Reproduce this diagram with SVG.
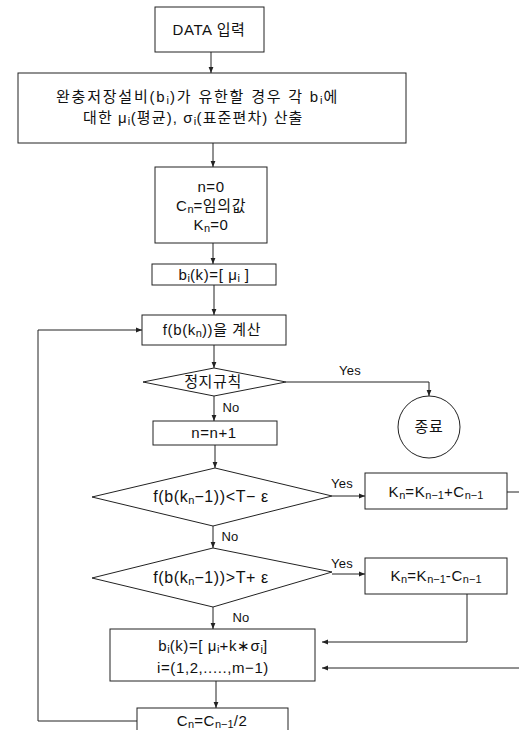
<svg xmlns="http://www.w3.org/2000/svg" width="519" height="730" viewBox="0 0 519 730">
<defs>
<marker id="ah" viewBox="0 0 10 10" refX="10" refY="5" markerWidth="6" markerHeight="6" orient="auto" markerUnits="userSpaceOnUse">
<path d="M0,1 L10,5 L0,9 Z" fill="#222"/>
</marker>
<style>
.b{fill:#fff;stroke:#222;stroke-width:1}
.c{fill:none;stroke:#222;stroke-width:1}
text{font-family:"Liberation Sans","Noto Sans CJK KR",sans-serif;font-size:15px;letter-spacing:0.6px;fill:#111;text-anchor:middle}
.s{font-size:11px;baseline-shift:-2px;letter-spacing:0}
.lb{font-size:13px;letter-spacing:0.3px}
</style>
</defs>
<rect width="519" height="730" fill="#fff"/>
<g id="connectors">
<path class="c" d="M211,52 V73" marker-end="url(#ah)"/>
<path class="c" d="M213,143 V167" marker-end="url(#ah)"/>
<path class="c" d="M213,243 V264" marker-end="url(#ah)"/>
<path class="c" d="M214,285 V315" marker-end="url(#ah)"/>
<path class="c" d="M214,345 V368" marker-end="url(#ah)"/>
<path class="c" d="M286,382 H429 V396" marker-end="url(#ah)"/>
<path class="c" d="M214,396 V421" marker-end="url(#ah)"/>
<path class="c" d="M215,445 V468" marker-end="url(#ah)"/>
<path class="c" d="M332,496 H365" marker-end="url(#ah)"/>
<path class="c" d="M213,526 V548" marker-end="url(#ah)"/>
<path class="c" d="M332,574 H365" marker-end="url(#ah)"/>
<path class="c" d="M213,607 V629" marker-end="url(#ah)"/>
<path class="c" d="M467,594 V642 H322" marker-end="url(#ah)"/>
<path class="c" d="M507,492 H530 V668 H322" marker-end="url(#ah)"/>
<path class="c" d="M216,681 V708" marker-end="url(#ah)"/>
<path class="c" d="M137,721 H38 V330 H142" marker-end="url(#ah)"/>
<text class="lb" x="350" y="375">Yes</text>
<text class="lb" x="231" y="412">No</text>
<text class="lb" x="342" y="488">Yes</text>
<text class="lb" x="230" y="541">No</text>
<text class="lb" x="342" y="568">Yes</text>
<text class="lb" x="241" y="622">No</text>
</g>
<g id="n1"><rect class="b" x="155" y="7" width="109" height="45"/><text x="209" y="35">DATA 입력</text></g>
<g id="n2"><rect class="b" x="18" y="73" width="388" height="70"/>
<text x="197" y="102" textLength="282" lengthAdjust="spacing">완충저장설비(b<tspan class="s">i</tspan>)가 유한할 경우 각 b<tspan class="s">i</tspan>에</text>
<text x="193" y="123" textLength="220" lengthAdjust="spacing">대한 μ<tspan class="s">i</tspan>(평균), σ<tspan class="s">i</tspan>(표준편차) 산출</text></g>
<g id="n3"><rect class="b" x="155" y="167" width="112" height="76"/>
<text x="211" y="192">n=0</text>
<text x="211" y="211">C<tspan class="s">n</tspan>=임의값</text>
<text x="211" y="230">K<tspan class="s">n</tspan>=0</text></g>
<g id="n4"><rect class="b" x="152" y="264" width="124" height="21"/><text x="214" y="280">b<tspan class="s">i</tspan>(k)=[ μ<tspan class="s">i</tspan> ]</text></g>
<g id="n5"><rect class="b" x="142" y="315" width="144" height="30"/><text x="212" y="335">f(b(k<tspan class="s">n</tspan>))을 계산</text></g>
<g id="n6"><polygon class="b" points="214,368 286,382 214,396 143,382"/><text x="213" y="387">정지규칙</text></g>
<g id="n7"><circle class="b" cx="429" cy="427" r="31"/><text x="429" y="432">종료</text></g>
<g id="n8"><rect class="b" x="153" y="421" width="124" height="24"/><text x="214" y="438">n=n+1</text></g>
<g id="n9"><polygon class="b" points="215,468 332,496 213,526 92,497"/><text x="211" y="502" style="font-size:16px">f(b(k<tspan class="s">n</tspan>−1))&lt;T− ε</text></g>
<g id="n10"><rect class="b" x="365" y="473" width="142" height="36"/><text x="436" y="497">K<tspan class="s">n</tspan>=K<tspan class="s">n−1</tspan>+C<tspan class="s">n−1</tspan></text></g>
<g id="n11"><polygon class="b" points="213,548 332,572 213,607 92,578"/><text x="211" y="583" style="font-size:16px">f(b(k<tspan class="s">n</tspan>−1))&gt;T+ ε</text></g>
<g id="n12"><rect class="b" x="365" y="558" width="142" height="36"/><text x="436" y="581">K<tspan class="s">n</tspan>=K<tspan class="s">n−1</tspan>-C<tspan class="s">n−1</tspan></text></g>
<g id="n13"><rect class="b" x="110" y="629" width="205" height="52"/>
<text x="213" y="651">b<tspan class="s">i</tspan>(k)=[ μ<tspan class="s">i</tspan>+k∗σ<tspan class="s">i</tspan>]</text>
<text x="213" y="673">i=(1,2,.....,m−1)</text></g>
<g id="n14"><rect class="b" x="137" y="708" width="151" height="30"/><text x="212" y="726">C<tspan class="s">n</tspan>=C<tspan class="s">n−1</tspan>/2</text></g>
</svg>
